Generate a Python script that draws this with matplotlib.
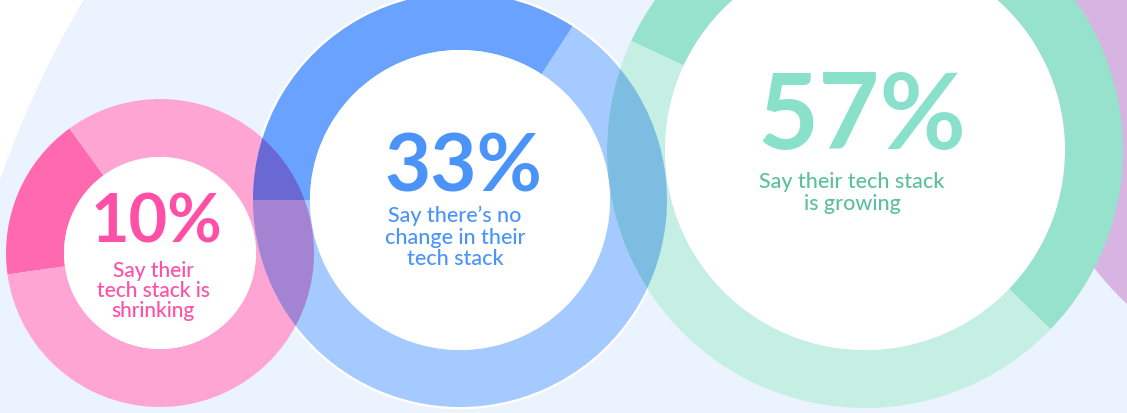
import matplotlib.pyplot as plt
from matplotlib.patches import Wedge, Circle
from matplotlib.colors import to_rgb

# values shown on each ring
labels = ["10%", "33%", "57%"]
subtitles = [
    ["Say their", "tech stack is", "shrinking"],
    ["Say there\u2019s no", "change in their", "tech stack"],
    ["Say their tech stack", "is growing"],
]
# highlighted arc of each ring (degrees, counter-clockwise from 3 o'clock)
arc_start = [126, 57, -44]
arc_end = [188, 180, 155]

# ring geometry in pixels (y up)
centers = [(160, 160), (460, 213), (865, 263)]
outer_r = [154, 207, 258]
inner_r = [96, 150, 200]

dark_cols = ["#FF69AF", "#6AA2FF", "#96E2CC"]
light_cols = ["#FFA5D3", "#A4CAFF", "#C4EFE2"]
text_cols = ["#FF4FA7", "#4A94F9", "#8AE1CB"]
sub_cols = ["#FF4FA7", "#4A94F9", "#5CC09E"]

W, H = 1127, 414

fig = plt.figure(figsize=(W / 100, H / 100), dpi=100)
ax = fig.add_axes([0, 0, 1, 1])
ax.set_xlim(0, W)
ax.set_ylim(0, H)
ax.set_aspect("equal")
ax.axis("off")
fig.patch.set_facecolor("white")


def multiply(c1, c2):
    a = to_rgb(c1)
    b = to_rgb(c2)
    return (a[0] * b[0], a[1] * b[1], a[2] * b[2])


def segments(i):
    c = centers[i]
    w = outer_r[i] - inner_r[i]
    return [
        (Wedge(c, outer_r[i], arc_start[i], arc_end[i], width=w), dark_cols[i]),
        (Wedge(c, outer_r[i], arc_end[i], arc_start[i] + 360, width=w), light_cols[i]),
    ]


# background shapes
ax.add_patch(Circle((957, -102), 1014, color="#EBF3FE", lw=0, zorder=0))
ax.add_patch(Circle((1332, 328), 300, color="#D8B4E2", lw=0, zorder=1))
ax.add_patch(Circle(centers[1], outer_r[1] + 1, fill=False, ec="white", lw=2, zorder=1.5))

# rings
for i in range(3):
    for patch, col in segments(i):
        patch.set_facecolor(col)
        patch.set_linewidth(0)
        patch.set_zorder(2 + i)
        ax.add_patch(patch)
    ax.add_patch(Circle(centers[i], inner_r[i], color="white", lw=0, zorder=5))

# overlapping parts look like a multiply blend
for a, b in [(0, 1), (1, 2)]:
    for k in range(2):
        for pb, cb in segments(b):
            pa, ca = segments(a)[k]
            pb.set_transform(ax.transData)
            pa.set_facecolor(multiply(ca, cb))
            pa.set_linewidth(0)
            pa.set_zorder(6)
            ax.add_patch(pa)
            pa.set_clip_path(pb)

# text
big_pos = [(157, 171, 48), (463, 223, 57.5), (862, 265, 76)]
sub_pos = [(153, [137, 117, 97], 15), (455, [192, 170, 149], 15.5), (852, [226, 204], 15.5)]
for i in range(3):
    x, y, fs = big_pos[i]
    ax.text(x, y, labels[i], ha="center", va="baseline", fontsize=fs,
            fontweight="bold", family="Lato", color=text_cols[i], zorder=10)
    sx, ys, sfs = sub_pos[i]
    for line, yy in zip(subtitles[i], ys):
        ax.text(sx, yy, line, ha="center", va="baseline", fontsize=sfs,
                fontweight="medium", family="Lato", color=sub_cols[i], zorder=10)

fig.savefig("out.png", dpi=100, facecolor="white")
